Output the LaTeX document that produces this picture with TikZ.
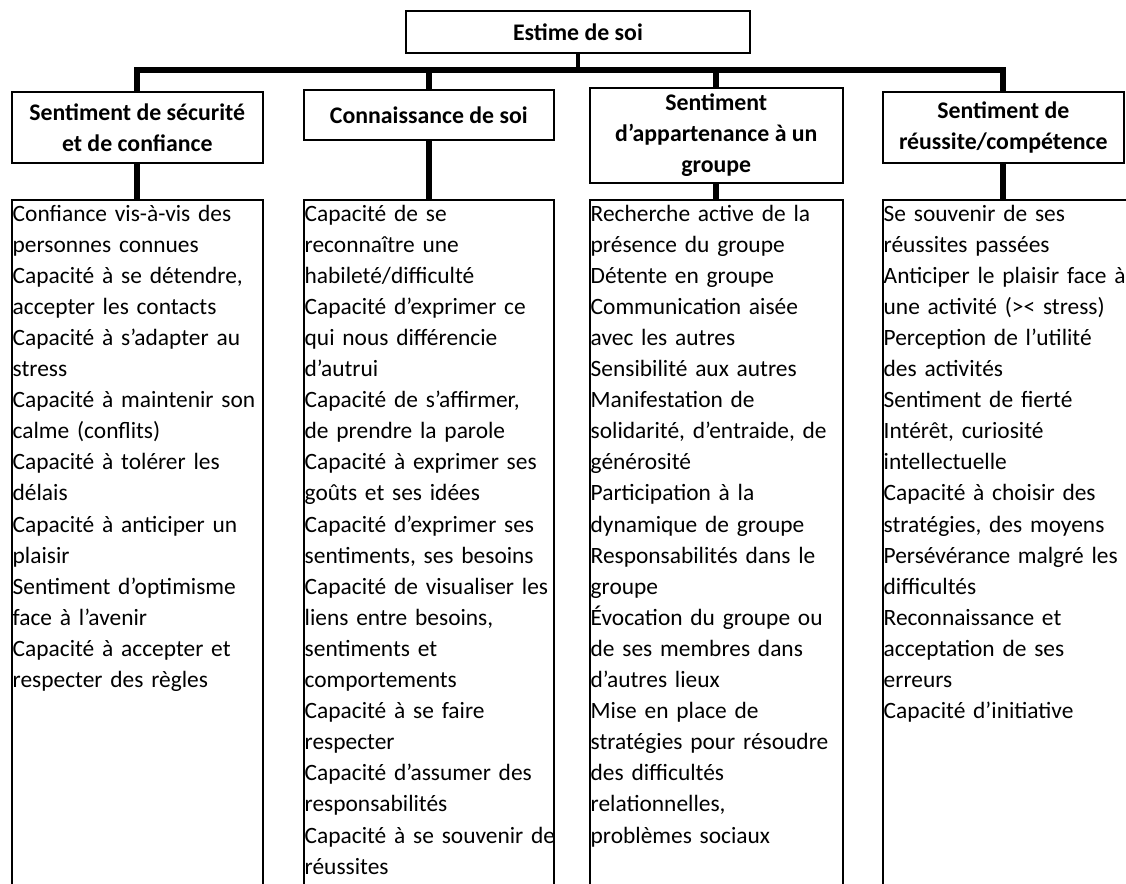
\documentclass[tikz,border=0pt]{standalone}
\usepackage{fontspec}
\setmainfont{Carlito}
\usetikzlibrary{positioning}

\begin{document}
\begin{tikzpicture}[
  x=1pt, y=-1pt,
  font=\fontsize{23.4pt}{31.1pt}\selectfont,
  box/.style={draw, line width=1.6pt, inner sep=0pt, anchor=north west},
  head/.style={box, align=center, font=\fontsize{23.8pt}{31pt}\selectfont\bfseries},
  items/.style={anchor=base west, inner sep=0pt, align=left, text width=300pt},
  link/.style={line width=6pt, line join=miter},
]
\useasboundingbox (0,0) rectangle (1126,883);

% Top of the tree
\node[head, line width=2pt, minimum width=344pt, minimum height=42pt] (top) at (405,10) {Estime de soi};
\coordinate (bar) at (0,70);

% Four headings
\node[head, minimum width=251pt, minimum height=71pt] (h1) at (11,91) {Sentiment de sécurité\\et de confiance};
\node[head, minimum width=250pt, minimum height=50pt] (h2) at (303,89) {Connaissance de soi};
\node[head, minimum width=253pt, minimum height=95pt] (h3) at (589,87) {Sentiment\\d’appartenance à un\\groupe};
\node[head, minimum width=241pt, minimum height=71pt] (h4) at (882,91) {Sentiment de\\réussite/compétence};

% Columns (open at the bottom)
\node[box, minimum width=251pt, minimum height=720pt] (c1) at (11,199) {};
\node[box, minimum width=250pt, minimum height=720pt] (c2) at (303,199) {};
\node[box, minimum width=253pt, minimum height=720pt] (c3) at (589,199) {};
\node[box, minimum width=260pt, minimum height=720pt] (c4) at (882,199) {};

\node[items] (t1) at (12.5,221) {Confiance vis-à-vis des\\personnes connues\\Capacité à se détendre,\\accepter les contacts\\Capacité à s’adapter au\\stress\\Capacité à maintenir son\\calme (conflits)\\Capacité à tolérer les\\délais\\Capacité à anticiper un\\plaisir\\Sentiment d’optimisme\\face à l’avenir\\Capacité à accepter et\\respecter des règles};
\node[items] (t2) at (304.5,221) {Capacité de se\\reconnaître une\\habileté/difficulté\\Capacité d’exprimer ce\\qui nous différencie\\d’autrui\\Capacité de s’affirmer,\\de prendre la parole\\Capacité à exprimer ses\\goûts et ses idées\\Capacité d’exprimer ses\\sentiments, ses besoins\\Capacité de visualiser les\\liens entre besoins,\\sentiments et\\comportements\\Capacité à se faire\\respecter\\Capacité d’assumer des\\responsabilités\\Capacité à se souvenir de\\réussites};
\node[items] (t3) at (590.5,221) {Recherche active de la\\présence du groupe\\Détente en groupe\\Communication aisée\\avec les autres\\Sensibilité aux autres\\Manifestation de\\solidarité, d’entraide, de\\générosité\\Participation à la\\dynamique de groupe\\Responsabilités dans le\\groupe\\Évocation du groupe ou\\de ses membres dans\\d’autres lieux\\Mise en place de\\stratégies pour résoudre\\des difficultés\\relationnelles,\\problèmes sociaux};
\node[items] (t4) at (883.5,221) {Se souvenir de ses\\réussites passées\\Anticiper le plaisir face à\\une activité (>< stress)\\Perception de l’utilité\\des activités\\Sentiment de fierté\\Intérêt, curiosité\\intellectuelle\\Capacité à choisir des\\stratégies, des moyens\\Persévérance malgré les\\difficultés\\Reconnaissance et\\acceptation de ses\\erreurs\\Capacité d’initiative};

% Connectors
\draw[line width=4pt] (top.south) -- (top.south |- bar);
\draw[link] (h1.north) -- (h1.north |- bar) -- (h4.north |- bar) -- (h4.north);
\draw[link] (h2.north |- bar) -- (h2.north);
\draw[link] (h3.north |- bar) -- (h3.north);
\draw[link] (h1.south) -- (h1.south |- c1.north);
\draw[link] (h2.south) -- (h2.south |- c2.north);
\draw[link] (h3.south) -- (h3.south |- c3.north);
\draw[link] (h4.south) -- (h4.south |- c4.north);
\end{tikzpicture}
\end{document}
